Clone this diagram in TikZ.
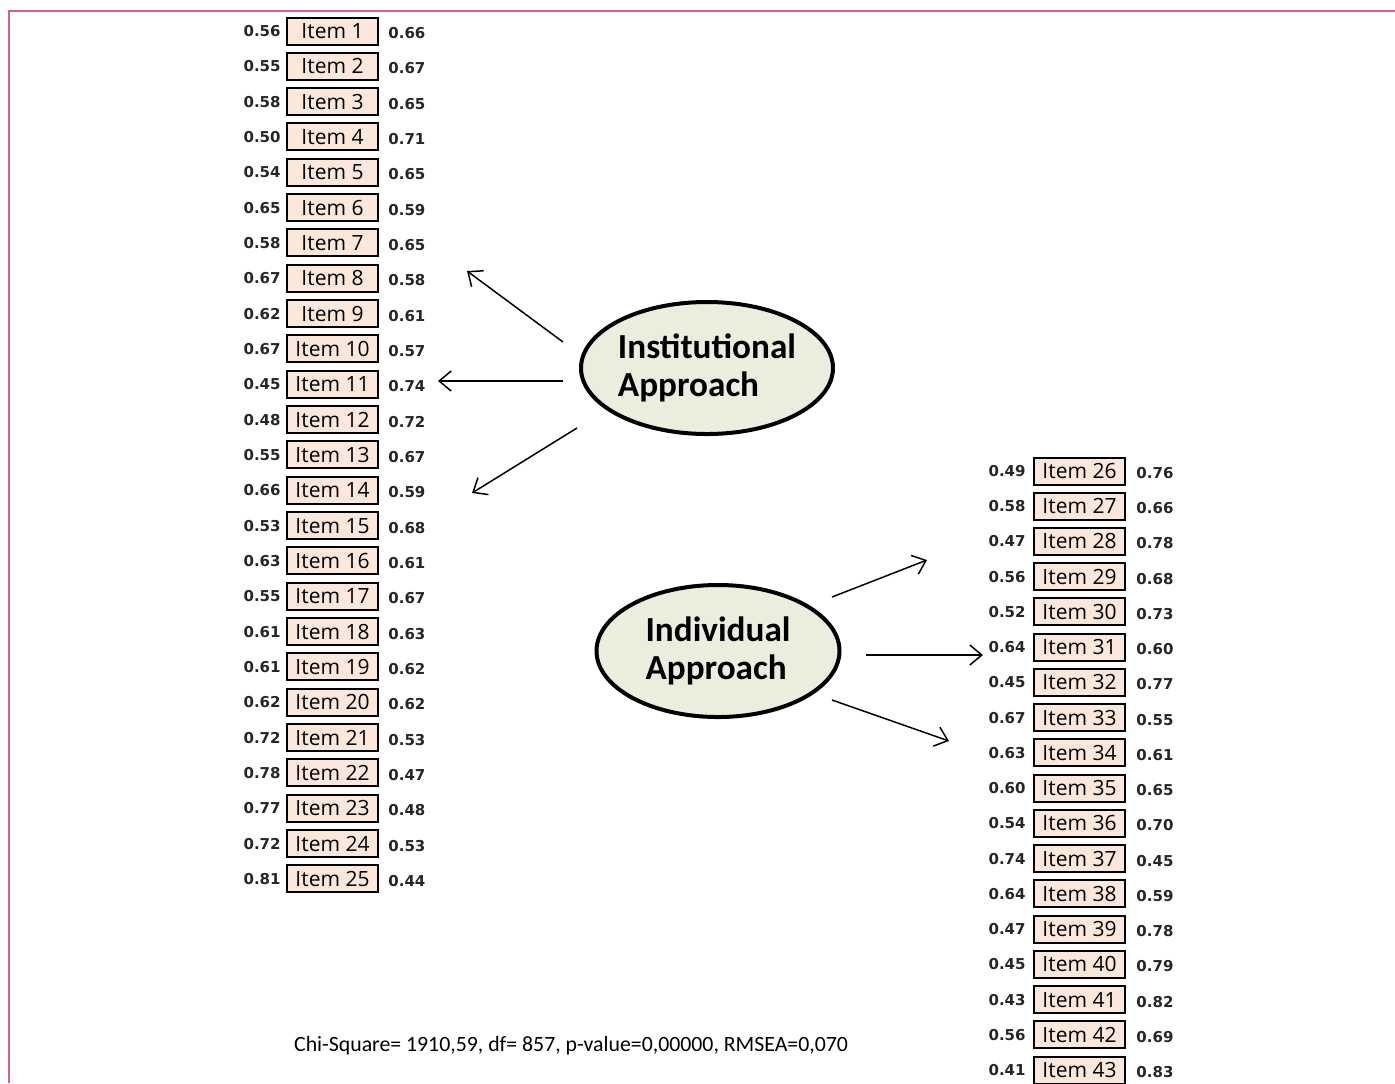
\documentclass[tikz,border=0pt]{standalone}
\usepackage{fontspec}
\setmainfont{Carlito}
\newfontfamily\itemfont{Open Sans}
\newfontfamily\numfont{DejaVu Sans}
\usepackage{tikz}
\usetikzlibrary{arrows.meta,positioning,shapes.geometric}
\usepackage{xcolor}
\definecolor{itemfill}{HTML}{FCE8DA}
\definecolor{latentfill}{HTML}{EBEEDC}
\definecolor{framered}{HTML}{D4647A}

\begin{document}
\begin{tikzpicture}[
  x=0.5pt, y=-0.5pt,
  item/.style={draw, fill=itemfill, line width=1pt, minimum width=45.5pt, minimum height=13.5pt, inner sep=0pt, font=\itemfont\fontsize{10.5}{12}\selectfont},
  load/.style={inner sep=0pt, font=\numfont\bfseries\fontsize{7.5}{9}\selectfont, text=black!85},
  latent/.style={ellipse, draw, line width=2pt, fill=latentfill, minimum width=126pt, minimum height=66pt, inner sep=0pt, align=left, font=\bfseries\fontsize{17.6}{19}\selectfont},
  arr/.style={-{Straight Barb[length=6pt, width=10pt]}, line width=0.75pt}
]
\useasboundingbox (0,0) rectangle (1395,1083);
\draw[framered, line width=1pt] (1395,11) -| (9,1083);

% Institutional approach items
\foreach \i/\a/\b [count=\k from 0] in {1/0.56/0.66, 2/0.55/0.67, 3/0.58/0.65, 4/0.50/0.71, 5/0.54/0.65,
  6/0.65/0.59, 7/0.58/0.65, 8/0.67/0.58, 9/0.62/0.61, 10/0.67/0.57, 11/0.45/0.74, 12/0.48/0.72,
  13/0.55/0.67, 14/0.66/0.59, 15/0.53/0.68, 16/0.63/0.61, 17/0.55/0.67, 18/0.61/0.63, 19/0.61/0.62,
  20/0.62/0.62, 21/0.72/0.53, 22/0.78/0.47, 23/0.77/0.48, 24/0.72/0.53, 25/0.81/0.44} {
  \node[item] (it\i) at (332.5, 31+35.33*\k) {Item \i};
  \node[load, left=2.5pt of it\i] (la\i) {\a};
  \node[load, right=4.5pt of it\i, yshift=-1pt] (lb\i) {\b};
}

% Individual approach items
\foreach \i/\a/\b [count=\k from 0] in {26/0.49/0.76, 27/0.58/0.66, 28/0.47/0.78, 29/0.56/0.68,
  30/0.52/0.73, 31/0.64/0.60, 32/0.45/0.77, 33/0.67/0.55, 34/0.63/0.61, 35/0.60/0.65, 36/0.54/0.70,
  37/0.74/0.45, 38/0.64/0.59, 39/0.47/0.78, 40/0.45/0.79, 41/0.43/0.82, 42/0.56/0.69, 43/0.41/0.83} {
  \node[item] (it\i) at (1079.5, 471+35.24*\k) {Item \i};
  \node[load, left=3.5pt of it\i] (la\i) {\a};
  \node[load, right=5pt of it\i, yshift=-1pt] (lb\i) {\b};
}

\node[latent] (inst) at (707,368) {Institutional\\Approach};
\node[latent, minimum width=121.5pt] (indiv) at (718,651) {Individual\\Approach};

\coordinate (ins1) at (563,342);
\coordinate (ine1) at (467,271);
\coordinate (ins2) at (563,381);
\coordinate (ine2) at (438,381);
\coordinate (ins3) at (577,428);
\coordinate (ine3) at (472,493);
\coordinate (ids1) at (832,597);
\coordinate (ide1) at (927,560);
\coordinate (ids2) at (866,655);
\coordinate (ide2) at (983,655);
\coordinate (ids3) at (832,700);
\coordinate (ide3) at (949,741);
\draw[arr] (ins1) -- (ine1);
\draw[arr] (ins2) -- (ine2);
\draw[arr] (ins3) -- (ine3);
\draw[arr] (ids1) -- (ide1);
\draw[arr] (ids2) -- (ide2);
\draw[arr] (ids3) -- (ide3);

\node[font=\fontsize{10.9}{12}\selectfont] (fit) at (571,1046) {Chi-Square= 1910,59, df= 857, p-value=0,00000, RMSEA=0,070};
\end{tikzpicture}
\end{document}
